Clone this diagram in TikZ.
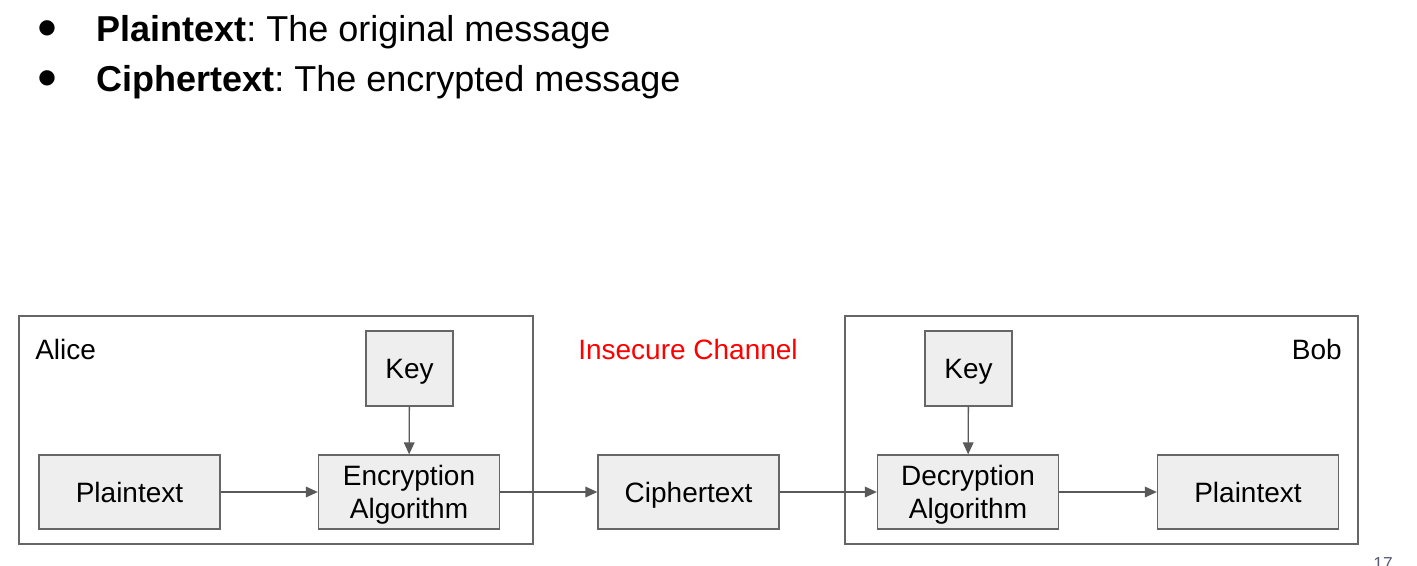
\documentclass[tikz,border=0pt]{standalone}
\usepackage{fontspec}
\setmainfont{Liberation Sans}
\newfontfamily\symfont{DejaVu Sans}
\usetikzlibrary{arrows.meta}
\definecolor{edgegray}{HTML}{666666}
\definecolor{boxfill}{HTML}{EEEEEE}
\definecolor{arrowgray}{HTML}{595959}
\definecolor{pagenum}{HTML}{595975}
\frenchspacing
\begin{document}
\begin{tikzpicture}[x=0.75pt,y=-0.75pt,
  boxbase/.style={draw=edgegray,fill=boxfill,line width=1pt,rectangle,inner sep=0pt,
    minimum width=135.75pt,minimum height=55.5pt,align=center,font=\fontsize{21}{24.75}\selectfont},
  stepbox/.style={boxbase,text height=15pt,text depth=0pt},
  twobox/.style={boxbase},
  keybox/.style={stepbox,minimum width=65.25pt,minimum height=56.25pt},
  party/.style={draw=edgegray,line width=1pt},
  flow/.style={draw=arrowgray,line width=1pt,-{Triangle[length=9pt,width=8pt]}},
  lbl/.style={inner sep=0pt,font=\fontsize{21}{24}\selectfont},
  bullettext/.style={inner sep=0pt,anchor=base west,font=\fontsize{27}{30}\selectfont},
  bulletmark/.style={inner sep=0pt,font=\symfont\fontsize{15}{17}\selectfont}]
\useasboundingbox (0,0) rectangle (1417,565);
\clip (0,0) rectangle (1417,565);
% bullets
\node[bulletmark] (b1) at (47,28) {●};
\node[bullettext] (t1) at (96,41) {\textbf{Plaintext}: The original message};
\node[bulletmark] (b2) at (47,78) {●};
\node[bullettext] (t2) at (96,91) {\textbf{Ciphertext}: The encrypted message};
% party frames
\draw[party] (19,316) rectangle (533,544);
\draw[party] (845,316) rectangle (1358,544);
\node[lbl,anchor=west] (alice) at (35,349) {Alice};
\node[lbl,anchor=east] (bob) at (1342,349) {Bob};
\node[lbl,text=red] (chan) at (688,349) {Insecure Channel};
% boxes
\node[stepbox] (p1) at (129.5,492) {Plaintext};
\node[twobox] (enc) at (409,492) {Encryption\\\smash{Algorithm}};
\node[keybox] (k1) at (409.5,368.5) {Key};
\node[stepbox] (ct) at (688.5,492) {Ciphertext};
\node[twobox] (dec) at (968,492) {Decryption\\\smash{Algorithm}};
\node[keybox] (k2) at (968.5,368.5) {Key};
\node[stepbox] (p2) at (1248,492) {Plaintext};
% arrows
\draw[flow] (p1) -- (enc);
\draw[flow] (k1) -- (enc);
\draw[flow] (enc) -- (ct);
\draw[flow] (ct) -- (dec);
\draw[flow] (k2) -- (dec);
\draw[flow] (dec) -- (p2);
% page number
\node[inner sep=0pt,anchor=north,text=pagenum,font=\fontsize{13}{15}\selectfont] (pg) at (1383,557) {17};
\end{tikzpicture}
\end{document}
